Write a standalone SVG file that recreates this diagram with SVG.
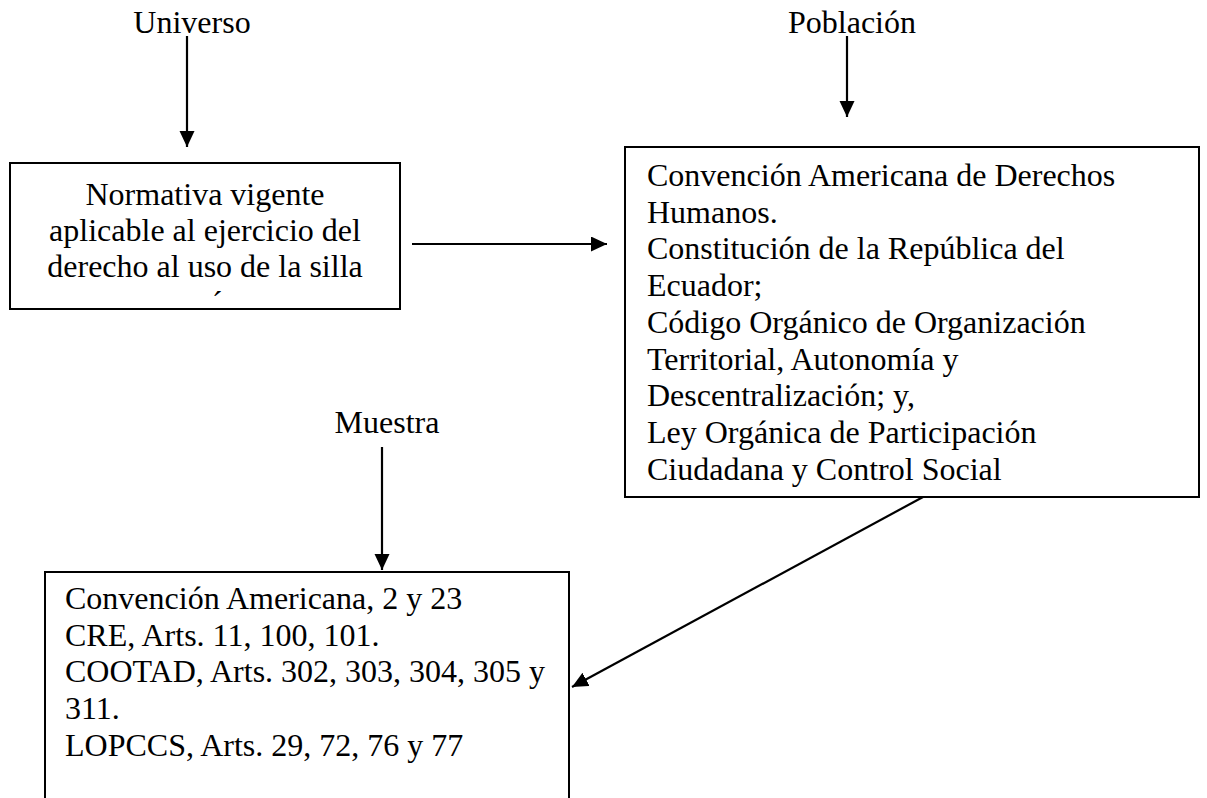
<svg xmlns="http://www.w3.org/2000/svg" width="1207" height="798" viewBox="0 0 1207 798">
<style>
  text { font-family: "Liberation Serif", "Times New Roman", serif; font-size: 32px; fill: #000; }
  .box { fill: #fff; stroke: #000; stroke-width: 2; }
  .conn { stroke: #000; stroke-width: 2.2; fill: none; marker-end: url(#arrow); }
  .mid { text-anchor: middle; }
</style>
<defs>
  <marker id="arrow" markerUnits="userSpaceOnUse" markerWidth="16" markerHeight="16" refX="16" refY="7.5" orient="auto">
    <path d="M0,0 L16,7.5 L0,15 Z" fill="#000"/>
  </marker>
</defs>
<rect width="1207" height="798" fill="#fff"/>

<g id="label-universo"><text x="192" y="33" class="mid">Universo</text></g>
<g id="label-poblacion"><text x="852" y="33" class="mid">Población</text></g>
<g id="label-muestra"><text x="387" y="433" class="mid">Muestra</text></g>

<g id="node-normativa">
  <rect class="box" x="10" y="163" width="390" height="146"/>
  <text x="205" y="205" class="mid">Normativa vigente</text>
  <text x="205" y="241" class="mid">aplicable al ejercicio del</text>
  <text x="205" y="277" class="mid">derecho al uso de la silla</text>
  <text x="212" y="313">´</text>
</g>

<g id="node-poblacion">
  <rect class="box" x="625" y="147" width="574" height="350"/>
  <text x="647" y="186">Convención Americana de Derechos</text>
  <text x="647" y="222.7">Humanos.</text>
  <text x="647" y="259.4">Constitución de la República del</text>
  <text x="647" y="296">Ecuador;</text>
  <text x="647" y="332.8">Código Orgánico de Organización</text>
  <text x="647" y="369.5">Territorial, Autonomía y</text>
  <text x="647" y="406.2">Descentralización; y,</text>
  <text x="647" y="443">Ley Orgánica de Participación</text>
  <text x="647" y="479.7">Ciudadana y Control Social</text>
</g>

<g id="node-muestra">
  <path d="M45,810 L45,572 L569,572 L569,810" fill="#fff" stroke="#000" stroke-width="2"/>
  <text x="65" y="609">Convención Americana, 2 y 23</text>
  <text x="65" y="645.7">CRE, Arts. 11, 100, 101.</text>
  <text x="65" y="682.4">COOTAD, Arts. 302, 303, 304, 305 y</text>
  <text x="65" y="719">311.</text>
  <text x="65" y="755.8">LOPCCS, Arts. 29, 72, 76 y 77</text>
</g>

<g id="connectors">
  <line class="conn" x1="187" y1="36" x2="187" y2="147"/>
  <line class="conn" x1="847" y1="36" x2="847" y2="117"/>
  <line class="conn" x1="412" y1="244" x2="607" y2="244"/>
  <line class="conn" x1="382" y1="447" x2="382" y2="570"/>
  <line class="conn" x1="923" y1="497" x2="572" y2="687"/>
</g>
</svg>
